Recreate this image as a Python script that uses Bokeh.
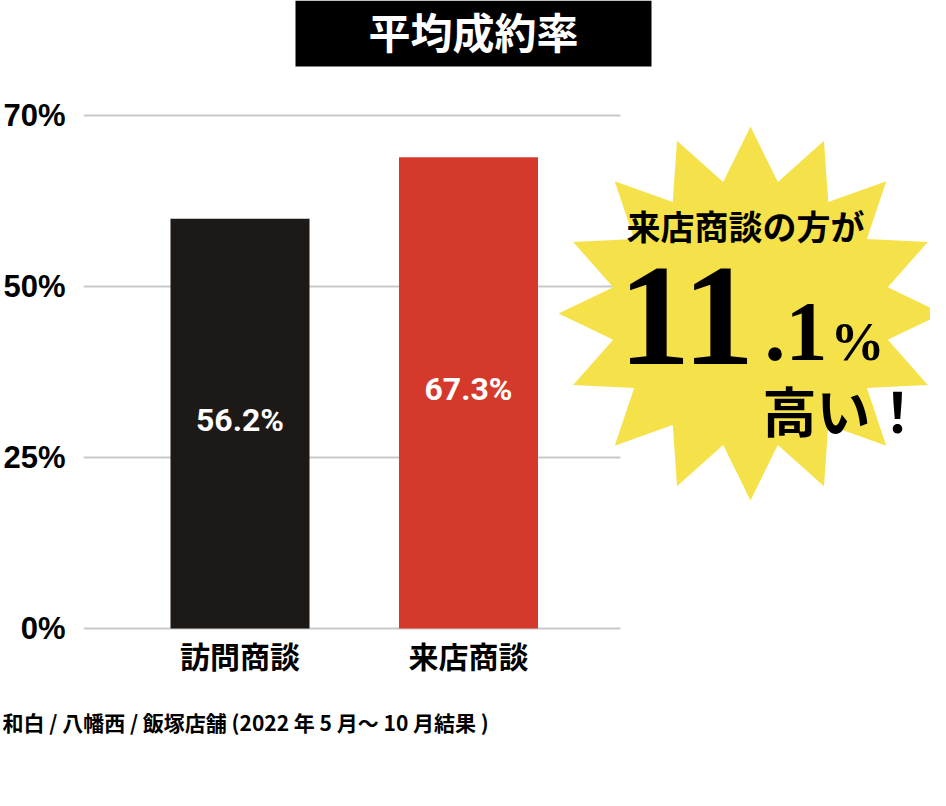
import math
from bokeh.plotting import figure
from bokeh.models import Range1d, FixedTicker, Title, ColumnDataSource
from bokeh.core.properties import value
from bokeh.embed import file_html
from bokeh.resources import INLINE

# ---- data ----
categories = ["訪問商談", "来店商談"]
bar_heights = [59.9, 68.9]          # bar tops as drawn (axis units)
value_labels = ["56.2%", "67.3%"]
bar_colors = ["#1d1916", "#d5392b"]
y_ticks = [0, 25, 50, 75]
y_tick_labels = ["0%", "25%", "50%", "70%"]
title_text = "平均成約率"
note_text = "和白 / 八幡西 / 飯塚店舗 (2022 年 5 月〜 10 月結果 )"

CJK = "Noto Sans CJK JP"

# ---- layout helpers (figure pixel -> data) ----
XC0, XW = 239.5, 228.5          # pixel x of first category, px per category
Y0, YPX = 628.0, 513.0 / 75.0   # pixel y of zero line, px per unit
def px(x):
    return (x - XC0) / XW
def py(y):
    return (Y0 - y) / YPX

W, H = 930, 790
FRAME_L, FRAME_B = 83, 630

x_idx = list(range(len(categories)))

p = figure(width=W, height=H,
           x_range=Range1d(px(FRAME_L), px(W)), y_range=Range1d(py(FRAME_B), py(0)),
           output_backend="svg", toolbar_location=None,
           min_border_left=FRAME_L, min_border_right=0, min_border_top=0,
           min_border_bottom=H - FRAME_B)
p.outline_line_color = None
p.background_fill_color = "white"
p.border_fill_color = "white"
p.grid.visible = False

# gridlines (ending before the starburst)
p.segment(x0=[px(83)] * len(y_ticks), x1=[px(620)] * len(y_ticks), y0=y_ticks, y1=y_ticks,
          line_color="#c9c9c9", line_width=2)

# bars
src = ColumnDataSource(dict(x=x_idx, top=bar_heights, color=bar_colors,
                            mid=[h / 2 for h in bar_heights], lab=value_labels))
p.vbar(x="x", top="top", bottom=0, width=139 / XW, fill_color="color", line_color=None, source=src)
p.text(x="x", y="mid", text="lab", source=src, text_color="white",
       text_font=value("Roboto"), text_font_style="bold", text_font_size="32px",
       text_align="center", text_baseline="middle", y_offset=-4)

# axes
p.yaxis.ticker = FixedTicker(ticks=y_ticks, minor_ticks=[])
p.yaxis.major_label_overrides = {t: l for t, l in zip(y_ticks, y_tick_labels)}
p.yaxis.major_label_text_font = "Liberation Sans"
p.yaxis.major_label_text_font_style = "bold"
p.yaxis.major_label_text_font_size = "31px"
p.yaxis.major_label_text_color = "black"
p.yaxis.major_label_standoff = 18
p.yaxis.axis_line_color = None
p.yaxis.major_tick_line_color = None
p.yaxis.minor_tick_line_color = None
p.yaxis.major_tick_out = 0
p.yaxis.major_tick_in = 0

p.xaxis.ticker = FixedTicker(ticks=x_idx, minor_ticks=[])
p.xaxis.major_label_overrides = {i: c for i, c in zip(x_idx, categories)}
p.xaxis.major_label_text_font = CJK
p.xaxis.major_label_text_font_style = "bold"
p.xaxis.major_label_text_font_size = "30px"
p.xaxis.major_label_text_color = "black"
p.xaxis.major_label_standoff = 2
p.xaxis.axis_line_color = None
p.xaxis.major_tick_line_color = None
p.xaxis.minor_tick_line_color = None
p.xaxis.major_tick_out = 0
p.xaxis.major_tick_in = 0

# footnote
note = Title(text=note_text, align="left", offset=-81, standoff=50,
             text_font=CJK, text_font_style="bold", text_font_size="21px", text_color="black")
p.add_layout(note, "below")

# title box
p.quad(left=[px(295)], right=[px(651)], top=[py(0)], bottom=[py(66)], fill_color="black", line_color=None)
p.text(x=[px(473)], y=[py(30)], text=[title_text], text_color="white",
       text_font=value(CJK), text_font_style="bold", text_font_size="42px",
       text_align="center", text_baseline="middle")

# starburst
cx, cy = 750.0, 313.0
sx, sy = [], []
for k in range(32):
    ang = math.radians(90 - k * 11.25)
    rx, ry = (192, 187) if k % 2 == 0 else (140, 134)
    sx.append(px(cx + rx * math.cos(ang)))
    sy.append(py(cy - ry * math.sin(ang)))
p.patch(sx, sy, fill_color="#f5e24b", line_color=None)

p.text(x=[px(745)], y=[py(225)], text=["来店商談の方が"], text_color="black",
       text_font=value(CJK), text_font_style="bold", text_font_size="34px",
       text_align="center", text_baseline="middle")
SERIF = value("Liberation Serif")
p.text(x=[px(618)], y=[py(316)], text=["11"], text_color="black", text_font=SERIF,
       text_font_style="bold", text_font_size="144px", text_align="left", text_baseline="alphabetic")
p.text(x=[px(764)], y=[py(331)], text=[".1"], text_color="black", text_font=SERIF,
       text_font_style="bold", text_font_size="84px", text_align="left", text_baseline="alphabetic")
p.text(x=[px(830)], y=[py(341)], text=["%"], text_color="black", text_font=SERIF,
       text_font_style="bold", text_font_size="54px", text_align="left", text_baseline="alphabetic")
p.text(x=[px(762)], y=[py(409)], text=["高い！"], text_color="black",
       text_font=value(CJK), text_font_style="bold", text_font_size="54px",
       text_align="left", text_baseline="middle")

open("out.html", "w").write(file_html(p, INLINE))
